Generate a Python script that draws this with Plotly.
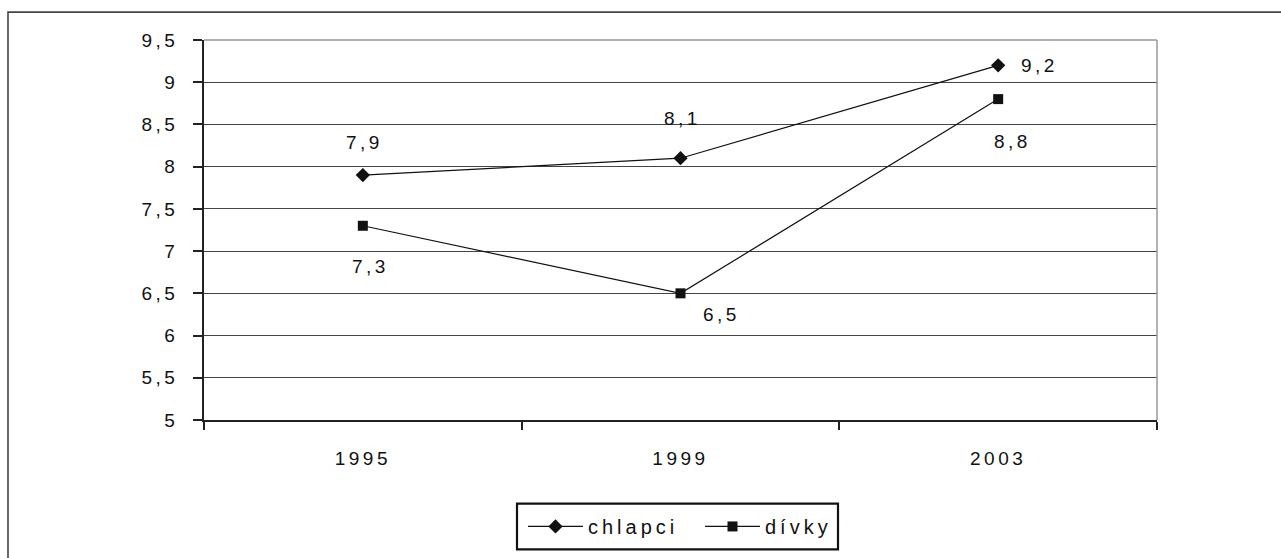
import plotly.graph_objects as go

years = ["1995", "1999", "2003"]
chlapci = [7.9, 8.1, 9.2]
divky = [7.3, 6.5, 8.8]
series_names = ["chlapci", "dívky"]
y_ticks = [5, 5.5, 6, 6.5, 7, 7.5, 8, 8.5, 9, 9.5]

FONT = "Liberation Sans, Arial, sans-serif"
INK = "#111111"


def sp(t, s=3.5):
    return f'<span style="letter-spacing:{s}px">{t}</span>'


def fmt(v):
    return f"{v:g}".replace(".", ",")


xpos = list(range(len(years)))
bounds = [i - 0.5 for i in range(len(years) + 1)]

# plot-area pixel geometry (used to place paper-referenced decorations)
L, R, T, B = 204, 1157, 40, 422
PW, PH = R - L, B - T


def px(x):
    return (x - L) / PW


def py(y):
    return (B - y) / PH


fig = go.Figure()
fig.add_trace(go.Scatter(
    x=xpos, y=chlapci, name=sp(series_names[0], 4), mode="lines+markers",
    line=dict(color=INK, width=1.2),
    marker=dict(symbol="diamond", size=11, color=INK),
))
fig.add_trace(go.Scatter(
    x=xpos, y=divky, name=sp(series_names[1], 4), mode="lines+markers",
    line=dict(color=INK, width=1.2),
    marker=dict(symbol="square", size=10, color=INK),
))

# data label offsets (px) per point
off_c = [(2, 33), (2, 40), (41, 0)]
off_d = [(8, -41), (41, -21), (14, -42)]
ann = []
for vals, offs in ((chlapci, off_c), (divky, off_d)):
    for x, v, (dx, dy) in zip(xpos, vals, offs):
        ann.append(dict(x=x, y=v, xref="x", yref="y", text=sp(fmt(v)),
                        showarrow=False, xshift=dx, yshift=dy,
                        font=dict(family=FONT, size=19, color=INK)))

shapes = [
    # outer chart frame (left and top visible)
    dict(type="rect", xref="paper", yref="paper",
         x0=px(8), x1=1.5, y0=-1, y1=py(12),
         line=dict(color="#444444", width=1.6), layer="below"),
    # plot area top and right border (grey)
    dict(type="line", xref="paper", yref="paper", x0=0, x1=1, y0=1, y1=1,
         line=dict(color="#999999", width=1.5), layer="above"),
    dict(type="line", xref="paper", yref="paper", x0=1, x1=1, y0=0, y1=1,
         line=dict(color="#999999", width=1.5), layer="above"),
    # legend frame
    dict(type="rect", xref="paper", yref="paper",
         x0=px(517), x1=px(838), y0=py(552), y1=py(506),
         line=dict(color=INK, width=2.2), fillcolor="rgba(0,0,0,0)", layer="above"),
]

fig.update_layout(
    width=1281, height=558,
    margin=dict(l=L, r=1281 - R, t=T, b=558 - B),
    paper_bgcolor="white", plot_bgcolor="white",
    font=dict(family=FONT, size=19, color=INK),
    showlegend=True,
    legend=dict(orientation="h", x=px(700), xanchor="center",
                y=py(529), yanchor="middle",
                borderwidth=0, bgcolor="rgba(0,0,0,0)",
                font=dict(family=FONT, size=20, color=INK),
                itemwidth=55, entrywidth=107, tracegroupgap=0),
    annotations=ann,
    shapes=shapes,
)

fig.update_xaxes(
    range=[bounds[0], bounds[-1]],
    tickvals=xpos, ticktext=[sp(y) for y in years], ticks="",
    minor=dict(tickvals=bounds, ticks="outside", ticklen=8,
               tickcolor="#222222", tickwidth=1.5, showgrid=False),
    showline=True, linecolor="#222222", linewidth=1.5,
    showgrid=False, zeroline=False,
    ticklabelstandoff=20,
)
fig.update_yaxes(
    range=[5, 9.5], tickvals=y_ticks, ticktext=[sp(fmt(v)) for v in y_ticks],
    ticks="outside", ticklen=9, tickcolor="#222222", tickwidth=1.5,
    showline=True, linecolor="#222222", linewidth=1.5,
    showgrid=True, gridcolor="#444444", gridwidth=1,
    zeroline=False, ticklabelstandoff=11,
)

fig.write_html("out.html")
